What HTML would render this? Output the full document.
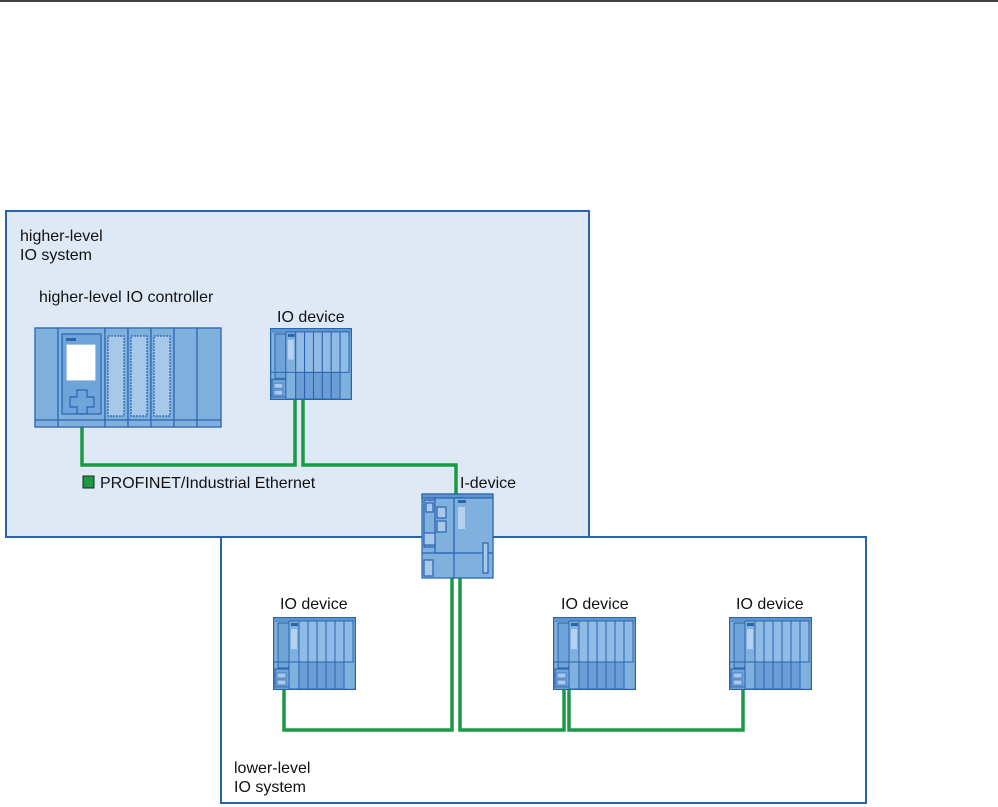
<!DOCTYPE html>
<html><head><meta charset="utf-8"><style>
html,body{margin:0;padding:0;background:#fff;}
svg{display:block;font-family:"Liberation Sans",Arial,sans-serif;}
</style></head><body>
<svg width="998" height="807" viewBox="0 0 998 807" xmlns="http://www.w3.org/2000/svg">
<defs>
<symbol id="io" viewBox="0 0 83 73" width="83" height="73">
<rect x="0.5" y="0.5" width="82" height="72" fill="#7fb0de" stroke="#2a64b0" stroke-width="1.5"/>
<rect x="1" y="1" width="81" height="4" fill="#5d95cf"/>
<rect x="5" y="6" width="11" height="45" fill="#6fa4d8" stroke="#2a64b0"/>
<rect x="2" y="52" width="14" height="18" fill="#6fa4d8" stroke="#2a64b0"/>
<rect x="4" y="56" width="9" height="5" fill="#a8c8ea" stroke="#2a64b0" stroke-width=".6"/>
<rect x="4" y="63" width="9" height="5" fill="#a8c8ea" stroke="#2a64b0" stroke-width=".6"/>
<rect x="16" y="4" width="10" height="68" fill="#7fb0de" stroke="#2a64b0"/>
<rect x="18" y="12" width="6" height="20" fill="#b5d1ee"/>
<rect x="18" y="6" width="7" height="3" fill="#2a64b0"/>
<g stroke="#2a64b0" fill="#8fbbe6">
<rect x="26" y="4" width="9" height="41"/><rect x="35" y="4" width="9" height="41"/><rect x="44" y="4" width="9" height="41"/><rect x="53" y="4" width="9" height="41"/><rect x="62" y="4" width="9" height="41"/><rect x="71" y="4" width="9" height="41"/>
<rect x="26" y="45" width="9" height="27" fill="#6a9ed4"/><rect x="35" y="45" width="9" height="27" fill="#6a9ed4"/><rect x="44" y="45" width="9" height="27" fill="#6a9ed4"/><rect x="53" y="45" width="9" height="27" fill="#6a9ed4"/><rect x="62" y="45" width="9" height="27" fill="#6a9ed4"/>
</g>
<line x1="0" y1="45" x2="26" y2="45" stroke="#2a64b0"/>
</symbol>
</defs>
<line x1="0" y1="1" x2="998" y2="1" stroke="#000" stroke-width="1.5"/>
<rect x="221" y="537" width="645" height="266" fill="#fff" stroke="#2a64a4" stroke-width="2"/>
<rect x="6" y="211" width="583" height="326" fill="#dfe9f6" stroke="#2a64a4" stroke-width="2"/>
<g font-size="16" fill="#111">
<text x="20" y="241">higher-level</text>
<text x="20" y="260">IO system</text>
<text x="39" y="302">higher-level IO controller</text>
<text x="277" y="322">IO device</text>
<text x="100" y="488">PROFINET/Industrial Ethernet</text>
<text x="460" y="488">I-device</text>
<text x="280" y="609">IO device</text>
<text x="561" y="609">IO device</text>
<text x="736" y="609">IO device</text>
<text x="234" y="773">lower-level</text>
<text x="234" y="792">IO system</text>
</g>
<rect x="83" y="476" width="11" height="12" fill="#1a9a44" stroke="#222" stroke-width="1"/>
<g fill="none" stroke="#1a9a44" stroke-width="3.5">
<polyline points="82,427 82,465 295,465 295,400"/>
<polyline points="303,400 303,465 456,465 456,494"/>
<polyline points="284,690 284,730 452,730 452,578"/>
<polyline points="460,578 460,730 564,730 564,690"/>
<polyline points="569,690 569,730 743,730 743,690"/>
</g>
<g stroke="#2a64b0" stroke-width="1.2">
<rect x="35" y="328" width="186" height="99" fill="#7fb0de"/>
<rect x="35" y="328" width="23" height="99" fill="#7fb0de"/>
<rect x="58" y="328" width="47" height="99" fill="#7fb0de"/>
<rect x="62" y="334" width="39" height="80" fill="#6fa4d8"/>
<rect x="66" y="344" width="30" height="37" fill="#fff" stroke="#6fa4d8"/>
<rect x="66" y="338" width="10" height="3" fill="#2a64b0" stroke="none"/>
<path d="M77 390h10v7h7v10h-7v7h-10v-7h-7v-10h7z" fill="none"/>
<rect x="105" y="328" width="23" height="99" fill="#7fb0de"/>
<rect x="108" y="336" width="16" height="80" fill="#a8c8ea" stroke-dasharray="2 1"/>
<rect x="128" y="328" width="23" height="99" fill="#7fb0de"/>
<rect x="131" y="336" width="16" height="80" fill="#a8c8ea" stroke-dasharray="2 1"/>
<rect x="151" y="328" width="23" height="99" fill="#7fb0de"/>
<rect x="154" y="336" width="16" height="80" fill="#a8c8ea" stroke-dasharray="2 1"/>
<rect x="174" y="328" width="23" height="99" fill="#7fb0de"/>
<rect x="197" y="328" width="24" height="99" fill="#7fb0de"/>
<line x1="35" y1="420" x2="221" y2="420"/>
</g>
<use href="#io" x="270" y="328" width="82" height="72"/>
<use href="#io" x="273" y="617"/>
<use href="#io" x="553" y="617"/>
<use href="#io" x="729" y="617"/>
<g stroke="#2a64b0" stroke-width="1.2">
<rect x="422" y="494" width="71" height="84" fill="#7fb0de"/>
<rect x="422" y="494" width="71" height="4" fill="#5d95cf"/>
<rect x="424" y="500" width="11" height="47" fill="#7fb0de"/>
<rect x="426" y="503" width="7" height="9" fill="#a8c8ea"/>
<rect x="435" y="498" width="19" height="55" fill="#7fb0de"/>
<rect x="437" y="507" width="9" height="11" fill="#a8c8ea"/>
<rect x="437" y="521" width="9" height="11" fill="#a8c8ea"/>
<rect x="424" y="533" width="11" height="12" fill="#a8c8ea"/>
<rect x="454" y="498" width="39" height="80" fill="#7fb0de"/>
<rect x="458" y="507" width="7" height="22" fill="#b5d1ee" stroke="none"/>
<rect x="458" y="500" width="8" height="3" fill="#2a64b0" stroke="none"/>
<line x1="422" y1="553" x2="493" y2="553"/>
<rect x="424" y="560" width="9" height="16" fill="#a8c8ea"/>
<rect x="483" y="543" width="5" height="30" fill="#a8c8ea"/>
</g>
</svg>
</body></html>
